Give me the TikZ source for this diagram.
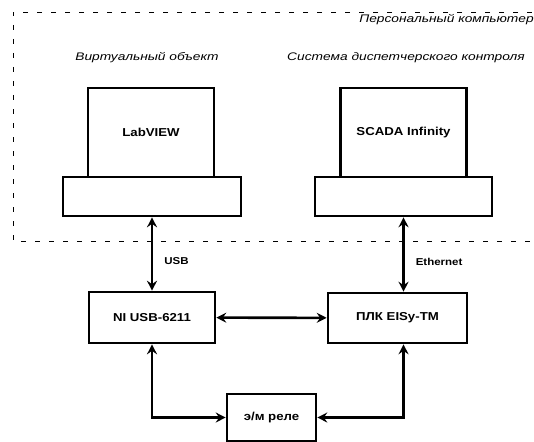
\documentclass[tikz,border=0pt]{standalone}
\usepackage{fontspec}
\setmainfont{Liberation Sans}
\newfontfamily\widesans[FakeStretch=1.15]{Liberation Sans}
\newfontfamily\widerm[FakeStretch=1.25]{Liberation Sans}
\usetikzlibrary{arrows.meta,positioning,calc}

\begin{document}
\begin{tikzpicture}[x=1pt, y=-1pt, line width=2.6pt, >={Stealth[length=10pt,width=10pt,inset=3.5pt]},
  screen/.style={rectangle,draw,minimum width=126pt,minimum height=89pt,inner sep=0pt,font=\widesans\bfseries\fontsize{11.5}{12}\selectfont},
  stand/.style={rectangle,draw,minimum width=178pt,minimum height=39pt,inner sep=0pt},
  unit/.style={rectangle,draw,minimum height=51pt,inner sep=0pt,font=\widesans\bfseries\fontsize{11.5}{12}\selectfont},
  caption/.style={font=\widerm\itshape\fontsize{11}{12}\selectfont,inner sep=0pt},
  link/.style={font=\widesans\bfseries\fontsize{10}{11}\selectfont,inner sep=0pt}]
\useasboundingbox (0,0) rectangle (534,441);
\clip (0,0) rectangle (534,441);
% personal computer border
\draw[line width=0.8pt,dash pattern=on 5pt off 9pt] (560,12) -- (13,12) -- (13,241) -- (560,241);
\node[caption,anchor=west] (pc) at (358,20) {Персональный компьютер};
\node[caption] (cap1) at (147,58) {Виртуальный объект};
\node[caption] (cap2) at (406,58) {Система диспетчерского контроля};
% monitors
\begin{scope}
\node[screen] (lv) at (151,132.5) {LabVIEW};
\node[stand] (lvbase) at (152,196.5) {};
\node[screen] (sc) at (403.5,132.5) {SCADA Infinity};
\node[stand,minimum width=177pt] (scbase) at (403.5,196.5) {};
\end{scope}
% hardware
\node[unit,minimum width=126pt] (ni) at (152,317.5) {NI USB-6211};
\node[unit,minimum width=139pt,minimum height=50pt] (plc) at (397.5,318) {ПЛК EISy-TM};
\node[unit,minimum width=89pt,minimum height=47pt] (relay) at (271.5,417.5) {э/м реле};
% connections
\draw[<->] (lvbase) -- node[link,right=11pt,pos=0.6]{USB} (ni);
\draw[<->] (scbase) -- node[link,right=11pt,pos=0.6]{Ethernet} (scbase |- plc.north);
\draw[<->] (ni) -- (plc);
\draw[<->] (ni) |- (relay);
\draw[<->] (scbase |- plc.south) |- (relay);
\end{tikzpicture}
\end{document}
